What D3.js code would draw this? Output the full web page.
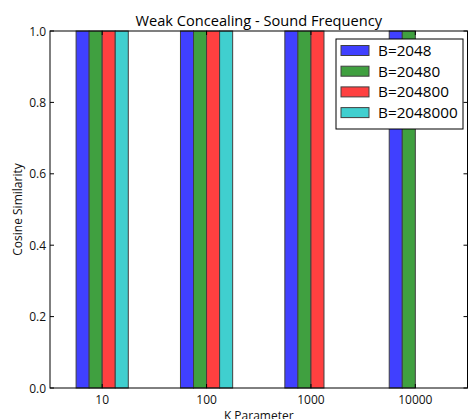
<!DOCTYPE html>
<html>
<head>
<meta charset="utf-8">
<script src="https://cdn.jsdelivr.net/npm/d3@7"></script>
<style>
body{margin:0;background:#fff;}
svg{font-family:"Open Sans",sans-serif;}
</style>
</head>
<body>
<svg width="468" height="419"></svg>
<script>
const kParams=["10","100","1000","10000"];
const series=["B=2048","B=20480","B=204800","B=2048000"];
const colors=["#4040ff","#40a040","#ff4040","#40cfcf"];
// cosine similarity per series, one value per K parameter
const b2048=[1.0,1.0,1.0,1.0];
const b20480=[1.0,1.0,1.0,1.0];
const b204800=[1.0,1.0,1.0,0.0];
const b2048000=[1.0,1.0,0.0,0.0];
const values=[b2048,b20480,b204800,b2048000];
const yTicks=[0,0.2,0.4,0.6,0.8,1.0];

const svg=d3.select("svg");
const mLeft=50, mRight=467.5, mTop=31, mBottom=388;

const x0=d3.scaleBand().domain(kParams).range([mLeft,mRight]).paddingInner(0.5).paddingOuter(0.25);
const x1=d3.scaleBand().domain(series).range([0,x0.bandwidth()]);
const y=d3.scaleLinear().domain([0,1]).range([mBottom,mTop]);
const color=d3.scaleOrdinal().domain(series).range(colors);

// bars
const g=svg.append("g");
series.forEach((s,si)=>{
  g.selectAll(".bar"+si).data(kParams).enter().append("rect")
   .attr("x",d=>x0(d)+x1(s))
   .attr("y",(d,i)=>y(values[si][i]))
   .attr("width",x1.bandwidth())
   .attr("height",(d,i)=>y(0)-y(values[si][i]))
   .attr("fill",color(s))
   .attr("stroke","#404040")
   .attr("stroke-width",1);
});

// ticks inward on all sides
const tick=svg.append("g").attr("stroke","#000").attr("stroke-width",1);
yTicks.forEach(t=>{
  tick.append("line").attr("x1",mLeft).attr("x2",mLeft+4).attr("y1",y(t)).attr("y2",y(t));
  tick.append("line").attr("x1",mRight-4).attr("x2",mRight).attr("y1",y(t)).attr("y2",y(t));
});
kParams.forEach(k=>{
  const cx=x0(k)+x0.bandwidth()/2;
  tick.append("line").attr("x1",cx).attr("x2",cx).attr("y1",mBottom).attr("y2",mBottom-4);
  tick.append("line").attr("x1",cx).attr("x2",cx).attr("y1",mTop).attr("y2",mTop+4);
});

// frame
svg.append("rect").attr("x",mLeft).attr("y",mTop).attr("width",mRight-mLeft).attr("height",mBottom-mTop)
   .attr("fill","none").attr("stroke","#000").attr("stroke-width",1);

// tick labels
svg.append("g").selectAll("text").data(yTicks).enter().append("text")
   .attr("x",mLeft-4).attr("y",d=>y(d)+4.5)
   .attr("text-anchor","end").attr("font-size","12px").attr("fill","#111")
   .text(d=>d.toFixed(1));
svg.append("g").selectAll("text").data(kParams).enter().append("text")
   .attr("x",d=>x0(d)+x0.bandwidth()/2).attr("y",404)
   .attr("text-anchor","middle").attr("font-size","12px").attr("fill","#111")
   .text(d=>d);

// titles
svg.append("text").attr("x",(mLeft+mRight)/2).attr("y",26).attr("text-anchor","middle")
   .attr("font-size","14.6px").attr("fill","#000").text("Weak Concealing - Sound Frequency");
svg.append("text").attr("x",(mLeft+mRight)/2).attr("y",420).attr("text-anchor","middle")
   .attr("font-size","12px").attr("fill","#111").text("K Parameter");
svg.append("text").attr("transform","translate(22,"+(mTop+mBottom)/2+") rotate(-90)")
   .attr("text-anchor","middle").attr("font-size","12px").attr("fill","#111").text("Cosine Similarity");

// legend
const lg=svg.append("g").attr("transform","translate(336,39)");
lg.append("rect").attr("width",127).attr("height",90).attr("fill","#fff").attr("stroke","#000").attr("stroke-width",1);
const item=lg.selectAll(".item").data(series).enter().append("g")
   .attr("transform",(d,i)=>"translate(0,"+(6.5+i*20.7)+")");
item.append("rect").attr("x",5).attr("y",0).attr("width",28).attr("height",10)
   .attr("fill",d=>color(d)).attr("stroke","#404040");
item.append("text").attr("x",42).attr("y",10.5).attr("font-size","15.3px").attr("fill","#000").text(d=>d);
</script>
</body>
</html>
